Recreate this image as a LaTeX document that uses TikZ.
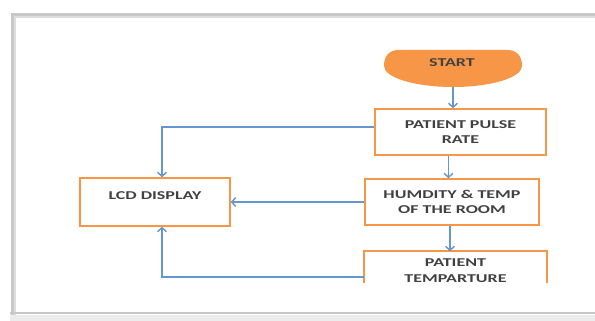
\documentclass[tikz,border=0pt]{standalone}
\usepackage{fontspec}
\setmainfont{Carlito}[FakeStretch=1.5]
\usetikzlibrary{arrows.meta,calc}
\definecolor{orng}{RGB}{247,150,70}
\definecolor{blu}{RGB}{100,150,210}
\definecolor{txt}{RGB}{65,65,65}
\definecolor{frm}{RGB}{200,200,200}
\begin{document}
\begin{tikzpicture}[x=1pt,y=-1pt,
  box/.style={draw=orng,line width=1.6pt,align=center,text=txt,font=\fontsize{12}{15.5}\selectfont\bfseries,inner sep=0pt},
  conn/.style={draw=blu,line width=1.4pt,-{Straight Barb[length=4pt,width=9pt]}}]
\useasboundingbox (0,0) rectangle (595,321);
\fill[white] (0,0) rectangle (595,321);
% frame
\draw[frm,line width=2.5pt] (12.5,322) -- (12.5,14.5) -- (600,14.5);
\draw[frm!60,line width=1.5pt] (15,322) -- (15,17) -- (600,17);
\draw[frm,line width=2.5pt] (10,313) -- (600,313);
\fill[gray!15] (10,314.5) rectangle (600,321);
% start
\node[minimum width=138pt,minimum height=37pt,inner sep=0pt] (start) at (453,68.5) {};
\fill[orng] (384,66) .. controls (384,55) and (390,50) .. (399,50) -- (507,50) .. controls (516,50) and (522,55) .. (522,66) arc (0:180:69 and 21) -- cycle;
\node[text=txt,font=\fontsize{12}{13}\selectfont\bfseries] (startlbl) at (452,63) {START};
% boxes
\node[box,minimum width=171pt,minimum height=46pt] (pulse) at (460.5,132) {PATIENT PULSE\\RATE};
\node[box,minimum width=174pt,minimum height=46pt] (hum) at (452,202) {HUMDITY \& TEMP\\OF THE ROOM};
\node[box,minimum width=150pt,minimum height=48pt,text depth=12pt] (lcd) at (155,202) {LCD DISPLAY};
\node[box,draw=none,minimum width=181pt,minimum height=50pt,text depth=13pt] (temp) at (455.5,277) {PATIENT\\TEMPARTURE};
\draw[orng,line width=1.6pt] (temp.west |- 0,283) -- (temp.north west) -- (temp.north east) -- (temp.east |- 0,283);
% connectors
\draw[conn] (start.south) -- (start.south |- pulse.north);
\draw[conn] ([xshift=-12pt]pulse.south) -- ([xshift=-12pt]pulse.south |- hum.north);
\draw[conn] ([xshift=-2pt]hum.south) -- ([xshift=-2pt]hum.south |- temp.north);
\draw[conn] ([yshift=5pt]pulse.west) -| ([xshift=7pt]lcd.north);
\draw[conn] (hum.west) -- (lcd.east);
\draw[conn] (temp.west) -| ([xshift=7pt]lcd.south);
\end{tikzpicture}
\end{document}
